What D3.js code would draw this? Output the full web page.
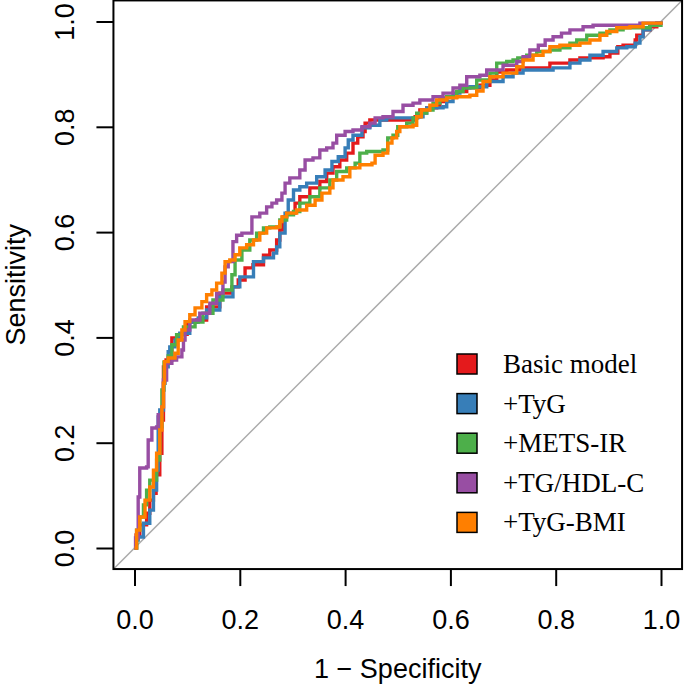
<!DOCTYPE html>
<html>
<head>
<meta charset="utf-8">
<script src="https://cdn.jsdelivr.net/npm/d3@7"></script>
<style>
  body { margin: 0; background: #fff; }
</style>
</head>
<body>
<svg id="chart"></svg>
<script>
// ROC curves, [1 - specificity, sensitivity]
const basicModel = [[0,0],[0.003,0.025],[0.010,0.044],[0.023,0.066],[0.029,0.091],[0.036,0.104],[0.041,0.139],[0.048,0.180],[0.052,0.243],[0.055,0.344],[0.060,0.357],[0.071,0.399],[0.086,0.406],[0.100,0.429],[0.118,0.433],[0.137,0.458],[0.162,0.484],[0.185,0.496],[0.197,0.509],[0.210,0.532],[0.225,0.538],[0.245,0.556],[0.257,0.566],[0.270,0.585],[0.276,0.604],[0.282,0.629],[0.289,0.636],[0.305,0.655],[0.314,0.667],[0.333,0.684],[0.352,0.696],[0.365,0.712],[0.377,0.724],[0.390,0.737],[0.403,0.750],[0.415,0.769],[0.424,0.781],[0.434,0.791],[0.438,0.807],[0.447,0.813],[0.523,0.813],[0.533,0.819],[0.542,0.832],[0.555,0.836],[0.574,0.838],[0.580,0.848],[0.593,0.857],[0.612,0.867],[0.631,0.874],[0.656,0.879],[0.675,0.889],[0.688,0.904],[0.707,0.908],[0.732,0.912],[0.789,0.921],[0.827,0.927],[0.846,0.931],[0.890,0.933],[0.903,0.940],[0.918,0.952],[0.928,0.955],[0.951,0.965],[0.954,0.974],[0.966,0.984],[0.979,0.990],[0.992,0.997],[1,1]];
const tyg = [[0,0],[0.004,0.015],[0.007,0.021],[0.017,0.047],[0.029,0.072],[0.036,0.110],[0.042,0.148],[0.045,0.249],[0.048,0.262],[0.055,0.313],[0.058,0.344],[0.064,0.373],[0.067,0.382],[0.077,0.395],[0.086,0.408],[0.105,0.429],[0.121,0.437],[0.137,0.452],[0.162,0.477],[0.187,0.496],[0.200,0.515],[0.226,0.544],[0.245,0.551],[0.264,0.560],[0.270,0.572],[0.276,0.598],[0.286,0.636],[0.292,0.661],[0.302,0.680],[0.314,0.686],[0.327,0.693],[0.346,0.705],[0.362,0.718],[0.375,0.734],[0.387,0.743],[0.400,0.760],[0.406,0.775],[0.415,0.784],[0.432,0.798],[0.447,0.803],[0.466,0.813],[0.479,0.817],[0.538,0.819],[0.548,0.826],[0.555,0.836],[0.574,0.836],[0.586,0.838],[0.593,0.848],[0.605,0.864],[0.618,0.874],[0.637,0.876],[0.669,0.886],[0.700,0.895],[0.719,0.902],[0.738,0.908],[0.795,0.912],[0.827,0.921],[0.846,0.927],[0.865,0.936],[0.890,0.943],[0.916,0.950],[0.935,0.952],[0.951,0.959],[0.960,0.971],[0.966,0.984],[0.979,0.993],[0.992,0.997],[1,1]];
const metsIr = [[0,0],[0.004,0.034],[0.010,0.059],[0.017,0.082],[0.023,0.110],[0.029,0.129],[0.042,0.167],[0.048,0.230],[0.052,0.300],[0.056,0.353],[0.064,0.365],[0.071,0.386],[0.080,0.405],[0.093,0.420],[0.115,0.429],[0.130,0.446],[0.149,0.471],[0.168,0.490],[0.185,0.519],[0.191,0.547],[0.204,0.566],[0.219,0.585],[0.232,0.598],[0.245,0.608],[0.257,0.610],[0.276,0.623],[0.289,0.633],[0.302,0.639],[0.314,0.655],[0.333,0.667],[0.352,0.684],[0.371,0.699],[0.384,0.715],[0.403,0.722],[0.419,0.731],[0.428,0.750],[0.441,0.753],[0.472,0.756],[0.481,0.779],[0.491,0.784],[0.500,0.800],[0.517,0.807],[0.529,0.817],[0.536,0.826],[0.555,0.832],[0.567,0.845],[0.580,0.855],[0.593,0.857],[0.612,0.867],[0.624,0.874],[0.650,0.889],[0.675,0.902],[0.688,0.921],[0.707,0.924],[0.719,0.927],[0.728,0.931],[0.745,0.936],[0.764,0.943],[0.789,0.946],[0.808,0.950],[0.827,0.959],[0.840,0.965],[0.859,0.974],[0.884,0.978],[0.903,0.984],[0.928,0.988],[0.954,0.988],[0.979,0.993],[1,1]];
const tgHdl = [[0,0],[0.002,0.019],[0.007,0.097],[0.010,0.152],[0.023,0.154],[0.026,0.205],[0.033,0.228],[0.042,0.230],[0.045,0.253],[0.052,0.268],[0.055,0.319],[0.061,0.351],[0.071,0.357],[0.080,0.363],[0.090,0.376],[0.093,0.395],[0.096,0.414],[0.105,0.433],[0.124,0.446],[0.143,0.465],[0.156,0.484],[0.168,0.505],[0.172,0.534],[0.178,0.544],[0.187,0.582],[0.194,0.594],[0.204,0.598],[0.223,0.629],[0.238,0.636],[0.251,0.648],[0.261,0.655],[0.270,0.661],[0.280,0.674],[0.286,0.693],[0.295,0.703],[0.314,0.718],[0.324,0.737],[0.339,0.741],[0.352,0.756],[0.365,0.760],[0.377,0.769],[0.384,0.784],[0.400,0.791],[0.415,0.794],[0.432,0.800],[0.447,0.807],[0.457,0.817],[0.472,0.819],[0.491,0.829],[0.510,0.841],[0.529,0.845],[0.542,0.851],[0.567,0.857],[0.586,0.864],[0.605,0.874],[0.618,0.879],[0.631,0.895],[0.656,0.898],[0.669,0.908],[0.700,0.917],[0.726,0.924],[0.738,0.933],[0.751,0.946],[0.767,0.955],[0.780,0.965],[0.795,0.971],[0.811,0.978],[0.827,0.984],[0.852,0.990],[0.871,0.993],[0.935,0.993],[0.960,0.997],[1,1]];
const tygBmi = [[0,0],[0.004,0.034],[0.010,0.059],[0.020,0.091],[0.029,0.116],[0.036,0.148],[0.042,0.180],[0.048,0.224],[0.052,0.268],[0.055,0.313],[0.057,0.354],[0.064,0.361],[0.077,0.370],[0.083,0.395],[0.090,0.414],[0.096,0.430],[0.105,0.443],[0.115,0.456],[0.128,0.468],[0.137,0.481],[0.147,0.490],[0.156,0.503],[0.166,0.522],[0.172,0.544],[0.181,0.547],[0.191,0.557],[0.200,0.570],[0.213,0.576],[0.226,0.585],[0.238,0.598],[0.251,0.608],[0.270,0.610],[0.276,0.620],[0.280,0.629],[0.289,0.636],[0.308,0.642],[0.327,0.651],[0.343,0.661],[0.356,0.674],[0.371,0.684],[0.377,0.699],[0.396,0.705],[0.409,0.722],[0.428,0.728],[0.451,0.731],[0.457,0.746],[0.472,0.750],[0.481,0.769],[0.489,0.779],[0.498,0.791],[0.504,0.800],[0.529,0.803],[0.536,0.819],[0.545,0.832],[0.561,0.841],[0.574,0.851],[0.593,0.855],[0.612,0.857],[0.637,0.860],[0.650,0.868],[0.662,0.886],[0.675,0.895],[0.700,0.902],[0.726,0.914],[0.738,0.927],[0.757,0.936],[0.776,0.943],[0.789,0.952],[0.808,0.955],[0.846,0.959],[0.865,0.965],[0.884,0.974],[0.897,0.981],[0.916,0.988],[0.941,0.990],[0.966,0.997],[1,1]];

const seriesNames = ["Basic model", "+TyG", "+METS-IR", "+TG/HDL-C", "+TyG-BMI"];
const seriesColors = ["#E41A1C", "#377EB8", "#4DAF4A", "#984EA3", "#FF7F00"];
const seriesData = [basicModel, tyg, metsIr, tgHdl, tygBmi];
const tickValues = [0, 0.2, 0.4, 0.6, 0.8, 1.0];

const width = 685, height = 687;
const sans = "Liberation Sans, Arial, sans-serif";

const svg = d3.select("#chart")
    .attr("width", width)
    .attr("height", height);

// plot region, R style 4% padding around [0,1]
const x = d3.scaleLinear().domain([0, 1]).range([134.5, 661]);
const y = d3.scaleLinear().domain([0, 1]).range([548, 21.5]);
const x0 = x(-0.04), x1 = x(1.04), y0 = y(-0.04), y1 = y(1.04);

svg.append("clipPath").attr("id", "box")
  .append("rect")
    .attr("x", x0).attr("y", y1)
    .attr("width", x1 - x0).attr("height", y0 - y1);

const plot = svg.append("g").attr("clip-path", "url(#box)");

// chance line
plot.append("line")
    .attr("x1", x(-0.04)).attr("y1", y(-0.04))
    .attr("x2", x(1.04)).attr("y2", y(1.04))
    .attr("stroke", "#aaaaaa")
    .attr("stroke-width", 1.5);

const line = d3.line()
    .x(d => x(d[0]))
    .y(d => y(d[1]))
    .curve(d3.curveStepAfter);

plot.selectAll("path.roc")
    .data(seriesData)
    .enter()
    .append("path")
    .attr("class", "roc")
    .attr("d", line)
    .attr("fill", "none")
    .attr("stroke", (d, i) => seriesColors[i])
    .attr("stroke-width", 3.4);

// box
svg.append("rect")
    .attr("x", x0).attr("y", y1)
    .attr("width", x1 - x0).attr("height", y0 - y1)
    .attr("fill", "none")
    .attr("stroke", "#000")
    .attr("stroke-width", 2);

const tickFmt = d3.format(".1f");

// x axis
const xAxis = svg.append("g")
    .attr("transform", "translate(0," + y0 + ")")
    .call(d3.axisBottom(x).tickValues(tickValues).tickFormat(tickFmt).tickSize(17));
xAxis.select(".domain").remove();
xAxis.selectAll(".tick line").attr("stroke-width", 2);
xAxis.selectAll(".tick text")
    .attr("y", 629 - y0).attr("dy", null)
    .attr("font-family", sans)
    .attr("font-size", 27)
    .attr("fill", "#000");

// y axis, labels rotated like base R
const yAxis = svg.append("g")
    .attr("transform", "translate(" + x0 + ",0)")
    .call(d3.axisLeft(y).tickValues(tickValues).tickFormat(tickFmt).tickSize(17));
yAxis.select(".domain").remove();
yAxis.selectAll(".tick line").attr("stroke-width", 2);
yAxis.selectAll(".tick text")
    .attr("x", null).attr("dy", null)
    .attr("font-family", sans)
    .attr("font-size", 27)
    .attr("fill", "#000")
    .attr("text-anchor", "middle")
    .attr("transform", "translate(" + (74 - x0) + ",0) rotate(-90)");

// axis titles
svg.append("text")
    .attr("x", (x0 + x1) / 2)
    .attr("y", 678)
    .attr("text-anchor", "middle")
    .attr("font-family", sans)
    .attr("font-size", 27)
    .text("1 \u2212 Specificity");

svg.append("text")
    .attr("transform", "translate(25," + ((y0 + y1) / 2) + ") rotate(-90)")
    .attr("text-anchor", "middle")
    .attr("font-family", sans)
    .attr("font-size", 27)
    .text("Sensitivity");

// legend
const legend = svg.append("g")
    .selectAll("g")
    .data(seriesNames)
    .enter()
    .append("g")
    .attr("transform", (d, i) => "translate(457," + (364 + i * 39.6) + ")");

legend.append("rect")
    .attr("x", 0).attr("y", -10)
    .attr("width", 20).attr("height", 20)
    .attr("fill", (d, i) => seriesColors[i])
    .attr("stroke", "#000")
    .attr("stroke-width", 1.5);

legend.append("text")
    .attr("x", 46)
    .attr("y", 9)
    .attr("font-family", "Liberation Serif, Times New Roman, serif")
    .attr("font-size", 27)
    .text(d => d);
</script>
</body>
</html>
